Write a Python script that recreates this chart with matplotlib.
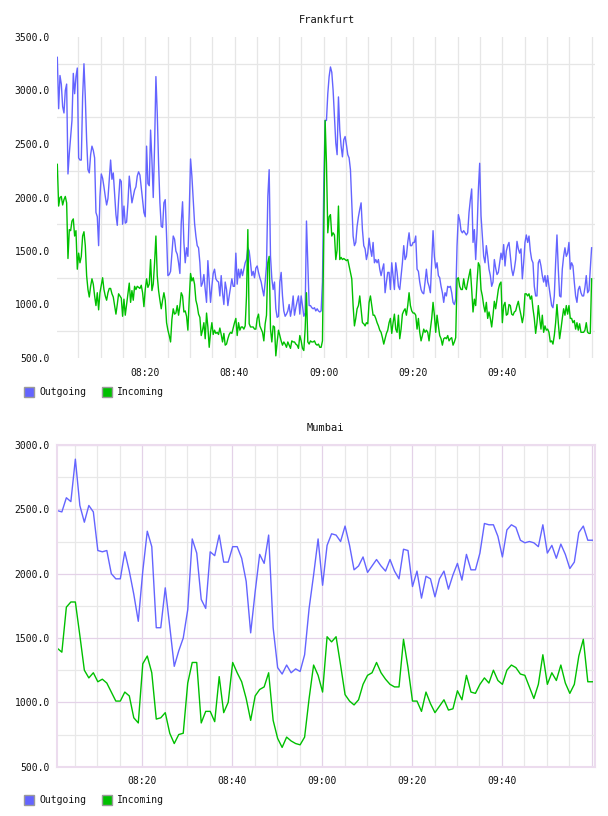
import matplotlib
matplotlib.use("Agg")
import matplotlib.pyplot as plt
from matplotlib.patches import Rectangle
from matplotlib.ticker import FixedLocator, MultipleLocator, FuncFormatter
import numpy as np

W, H = 608, 816
BLUE = "#6464ff"
GREEN = "#00c000"
FONT = "DejaVu Sans Mono"

# --- data (x = minutes after 08:00) ---
FRA_START, FRA_END = 0.3, 120.0
FRA_OUT = [
    3310, 2830, 3140, 3060, 2850, 2790, 3000, 3060, 2220, 2410,
    2570, 2720, 3160, 2970, 3130, 3210, 2370, 2350, 2350, 2940,
    3250, 2940, 2540, 2260, 2230, 2400, 2480, 2440, 2370, 1860,
    1820, 1550, 2010, 2220, 2180, 2100, 2010, 1930, 1990, 2170,
    2350, 2170, 2230, 2040, 1840, 1740, 1980, 2170, 2150, 1750,
    1920, 1760, 1770, 1950, 2200, 2070, 1950, 2010, 2070, 2100,
    2200, 2240, 2210, 2090, 1960, 1860, 1820, 2480, 2130, 2110,
    2630, 2350, 2000, 2480, 3130, 2790, 2320, 1950, 1730, 1720,
    1950, 1980, 1640, 1270, 1280, 1310, 1480, 1640, 1610, 1500,
    1470, 1390, 1290, 1760, 1960, 1580, 1390, 1530, 1450, 1860,
    2360, 2200, 1980, 1760, 1640, 1550, 1530, 1390, 1170, 1200,
    1280, 1140, 1020, 1410, 1210, 1020, 1170, 1290, 1330, 1240,
    1220, 1210, 1080, 1270, 1110, 1000, 1210, 1140, 990, 1080,
    1160, 1240, 1170, 1170,
    1480, 1190, 1330, 1250, 1330, 1270, 1330, 1390, 1420, 1530,
    1500, 1390, 1270, 1310, 1250, 1340, 1360, 1300, 1250, 1210,
    1140, 1080, 1210, 1360, 2010, 2260, 1450, 1240, 1140, 1210,
    960, 880, 890, 1210, 1300, 1080, 940, 890, 910, 940,
    1000, 890, 960, 1080, 900, 970, 1030, 1080, 910, 1080,
    990, 890, 920, 1780, 1390, 990, 990, 970, 960, 970,
    940, 960, 940, 930, 940, 1210, 2130, 2720, 2720, 2970,
    3130, 3220, 3170, 3000, 2750, 2510, 2400, 2940, 2630, 2480,
    2380, 2540, 2570, 2490, 2400, 2370, 2260, 1950, 1640, 1550,
    1580, 1730, 1820, 1890, 1950, 1700, 1550, 1520, 1420, 1480,
    1620, 1520, 1450, 1580, 1390, 1420, 1390, 1420, 1330, 1270,
    1330, 1380, 1110, 1210, 1300, 1300, 1140, 1390, 1270, 1140,
    1390, 1300, 1170, 1140, 1270, 1390, 1550, 1420, 1450, 1580,
    1670, 1550, 1550, 1580, 1580,
    1640, 1330, 1310, 1210, 1140, 1110, 1100, 1210, 1330, 1210,
    1170, 1110, 1390, 1690, 1450, 1340, 1390, 1270, 1250, 1170,
    1110, 1020, 1110, 1080, 1170, 1160, 1170, 1110, 1020, 1000,
    1050, 1550, 1840, 1790, 1690, 1670, 1690, 1670, 1650, 1670,
    1860, 1980, 2080, 1580, 1700, 1420, 1670, 2070, 2320, 1830,
    1640, 1450, 1390, 1550, 1450, 1330, 1270, 1170, 1210, 1420,
    1340, 1280, 1300, 1390, 1480, 1420, 1560, 1360, 1500, 1550,
    1580, 1450, 1330, 1270, 1330, 1420, 1590, 1520, 1480, 1520,
    1240, 1390, 1580, 1650, 1580, 1640, 1500, 1420, 1390, 1170,
    1080, 1080, 1390, 1420, 1360, 1270, 1210, 1270, 1170, 1270,
    1170, 1080, 990, 970, 1080, 1390, 1650, 1330, 1080, 1070,
    1330, 1450, 1530, 1450, 1480, 1580, 1330, 1390, 1360, 1210,
    1080, 1020, 1140, 1170, 1110, 1080, 1080, 1160, 1270, 1110,
    1130, 1330, 1530,
]
FRA_IN = [
    2310, 1920, 2000, 2010, 1930, 1980, 2010, 1950, 1430, 1700,
    1690, 1780, 1800, 1640, 1690, 1330, 1480, 1390, 1450, 1640,
    1680, 1550, 1270, 1140, 1070, 1170, 1240, 1190, 1080, 990,
    1110, 950, 1110, 1180, 1250, 1140, 1080, 1040, 1110, 1150,
    1150, 1100, 1070, 990, 910, 1000, 1100, 1080, 1060, 890,
    1050, 900, 1000, 1100, 1200, 1020, 1130, 1040, 1170, 1140,
    1170, 1160, 1150, 1180, 1110, 980, 1140, 1240, 1160, 1190,
    1420, 1130, 1190, 1390, 1640, 1270, 1130, 1040, 960, 1040,
    1110, 1040, 830, 760, 710, 650, 860, 960, 910, 920,
    990, 900, 990, 1110, 1080, 930, 940, 890, 760, 1050,
    1290, 1220, 1250, 1190, 1040, 990, 910, 880, 710, 760,
    830, 680, 920, 790, 600, 740, 830, 720, 760, 730,
    740, 720, 780, 720, 650, 730, 620, 630, 680, 720,
    740, 730, 780, 830,
    870, 710, 830, 760, 790, 790, 770, 800, 1080, 1700,
    820, 790, 790, 790, 770, 770, 870, 910, 800, 770,
    740, 660, 820, 900, 1390, 1450, 770, 650, 800, 790,
    520, 650, 760, 710, 660, 620, 650, 630, 600, 650,
    620, 590, 660, 650, 650, 630, 620, 590, 710, 660,
    590, 570, 770, 1110, 650, 630, 660, 650, 650, 660,
    630, 620, 630, 600, 600, 660, 1700, 2720, 2320, 1670,
    1820, 1840, 1640, 1670, 1650, 1420, 1510, 1920, 1420, 1440,
    1420, 1430, 1420, 1410, 1420, 1360, 1300, 1240, 990, 800,
    870, 960, 990, 1080, 960, 830, 820, 800, 830, 820,
    1020, 1080, 990, 900, 900, 870, 830, 800, 760, 740,
    690, 630, 680, 730, 760, 830, 870, 730, 830, 910,
    770, 740, 900, 680, 770, 910, 940, 960, 900, 990,
    1110, 990, 940, 920, 920,
    900, 770, 870, 740, 660, 710, 770, 740, 760, 740,
    660, 770, 870, 1020, 900, 740, 900, 800, 710, 680,
    620, 680, 690, 680, 710, 660, 680, 690, 620, 650,
    690, 1240, 1250, 1170, 1140, 1140, 1240, 1160, 1140, 1210,
    1270, 1330, 1140, 930, 1050, 990, 1210, 1390, 1360, 1140,
    1080, 990, 930, 1020, 870, 930, 870, 790, 900, 1030,
    960, 1050, 1140, 1190, 1210, 830, 990, 1020, 900, 910,
    1000, 990, 910, 900, 930, 940, 990, 1030, 960, 900,
    830, 900, 1100, 1100, 1080, 1100, 1050, 1080, 960, 870,
    730, 830, 990, 870, 770, 900, 740, 800, 760, 770,
    740, 650, 660, 630, 710, 830, 1000, 830, 680, 770,
    870, 960, 900, 990, 910, 990, 870, 870, 830, 850,
    770, 830, 760, 820, 740, 740, 740, 760, 830, 740,
    730, 730, 1240,
]

MUM_START, MUM_STEP = 1.1, 1.0
MUM_OUT = [
    2490, 2480, 2590, 2560, 2890, 2530, 2400, 2530, 2480, 2180,
    2170, 2180, 2000, 1960, 1960, 2170, 2020, 1840, 1630, 2020,
    2330, 2210, 1580, 1580, 1890, 1590, 1280, 1400, 1500, 1720,
    2270, 2160, 1800, 1730, 2170, 2140, 2300, 2090, 2090, 2210,
    2210, 2120, 1940, 1540, 1860, 2150, 2080, 2300, 1580, 1270,
    1220, 1290, 1230, 1260, 1240, 1370, 1730, 1990, 2270, 1910,
    2220, 2310, 2300, 2250, 2370, 2220, 2030, 2060, 2130, 2010,
    2060, 2110, 2060, 2020, 2110, 2020, 1960, 2190, 2180, 1900,
    2020, 1810, 1980, 1960, 1820, 1960, 2020, 1880, 1990, 2080,
    1950, 2150, 2030, 2030, 2160, 2390, 2380, 2380, 2290, 2130,
    2340, 2380, 2360, 2260, 2240, 2250, 2240, 2210, 2380, 2160,
    2220, 2120, 2230, 2150, 2040, 2090, 2320, 2370, 2260, 2260,
]
MUM_IN = [
    1420, 1390, 1740, 1780, 1780, 1520, 1250, 1190, 1230, 1160,
    1180, 1150, 1080, 1010, 1010, 1080, 1050, 880, 840, 1300,
    1360, 1230, 870, 880, 920, 760, 680, 750, 760, 1150,
    1310, 1310, 840, 930, 930, 850, 1200, 920, 1000, 1310,
    1230, 1160, 1030, 860, 1050, 1100, 1120, 1230, 860, 720,
    650, 730, 700, 680, 670, 730, 1030, 1290, 1210, 1080,
    1510, 1470, 1510, 1290, 1060, 1010, 980, 1020, 1140, 1210,
    1230, 1310, 1230, 1180, 1140, 1120, 1120, 1490, 1270, 1010,
    1010, 930, 1080, 990, 920, 970, 1020, 940, 950, 1090,
    1020, 1210, 1080, 1070, 1140, 1190, 1150, 1250, 1170, 1140,
    1250, 1290, 1270, 1220, 1210, 1120, 1030, 1140, 1370, 1140,
    1230, 1170, 1290, 1150, 1070, 1140, 1360, 1490, 1160, 1160,
]

LABEL_MINUTES = [20, 40, 60, 80, 100]


def hhmm(m, pos=None):
    m = int(round(m))
    if m >= 120:
        return ""
    return f"{8 + m // 60:02d}:{m % 60:02d}"


def fig_box(left, top, right, bottom):
    return [left / W, 1 - bottom / H, (right - left) / W, (bottom - top) / H]


def legend(fig, y):
    for x0, color, label in ((24, BLUE, "Outgoing"), (102, GREEN, "Incoming")):
        fig.add_artist(Rectangle((x0 / W, 1 - (y + 5) / H), 10 / W, 10 / H,
                                 transform=fig.transFigure, facecolor=color,
                                 edgecolor="#9a9a9a", lw=1))
        fig.text((x0 + 15) / W, 1 - y / H, label, fontsize=7, family=FONT,
                 va="center", ha="left", color="#111111")


def style(ax, ymax, major_grid, minor_grid):
    ax.set_ylim(500, ymax)
    ax.set_yticks(np.arange(500, ymax + 1, 500))
    ax.yaxis.set_major_formatter(FuncFormatter(lambda v, p: f"{v:.1f}"))
    ax.yaxis.set_minor_locator(FixedLocator(np.arange(750, ymax, 500)))
    ax.set_xticks(LABEL_MINUTES + [120])
    ax.xaxis.set_major_formatter(FuncFormatter(hhmm))
    ax.xaxis.set_minor_locator(MultipleLocator(5))
    ax.tick_params(which="both", length=0, labelsize=7, colors="#111111")
    ax.tick_params(axis="y", pad=5)
    ax.tick_params(axis="x", pad=7)
    for lab in ax.get_xticklabels() + ax.get_yticklabels():
        lab.set_family(FONT)
    ax.grid(axis="x", which="minor", color=minor_grid, lw=0.9)
    ax.grid(axis="y", which="minor", color=minor_grid, lw=0.9)
    if major_grid:
        ax.grid(axis="both", which="major", color=major_grid, lw=0.9)
    else:
        ax.grid(axis="x", which="major", color=minor_grid, lw=0.9)
        ax.grid(axis="y", which="major", visible=False)
    ax.set_axisbelow(True)


fig = plt.figure(figsize=(W / 100, H / 100), dpi=100)

# Frankfurt
ax1 = fig.add_axes(fig_box(57, 37, 595, 358))
t_fra = np.linspace(FRA_START, FRA_END, len(FRA_OUT))
t_fra_in = np.linspace(FRA_START, FRA_END, len(FRA_IN))
ax1.plot(t_fra, FRA_OUT, color=BLUE, lw=1.0)
ax1.plot(t_fra_in, FRA_IN, color=GREEN, lw=1.0)
ax1.set_xlim(0.23, 120.76)
style(ax1, 3500, None, "#e6e6e6")
for s in ax1.spines.values():
    s.set_visible(False)
fig.text(327 / W, 1 - 20 / H, "Frankfurt", fontsize=7.5, family=FONT,
         ha="center", va="center", color="#111111")
legend(fig, 392)

# Mumbai
ax2 = fig.add_axes(fig_box(56.7, 445, 595, 766.7))
t_mum = MUM_START + MUM_STEP * np.arange(len(MUM_OUT))
ax2.plot(t_mum, MUM_OUT, color=BLUE, lw=1.0)
ax2.plot(t_mum, MUM_IN, color=GREEN, lw=1.0)
ax2.set_xlim(0.95, 120.7)
style(ax2, 3000, "#e4d2e8", "#e8e8e8")
for s in ax2.spines.values():
    s.set_color("#ecdcee")
    s.set_linewidth(1.5)
fig.text(325 / W, 1 - 428 / H, "Mumbai", fontsize=7.5, family=FONT,
         ha="center", va="center", color="#111111")
legend(fig, 800)

fig.savefig("out.png", dpi=100, facecolor="white")
